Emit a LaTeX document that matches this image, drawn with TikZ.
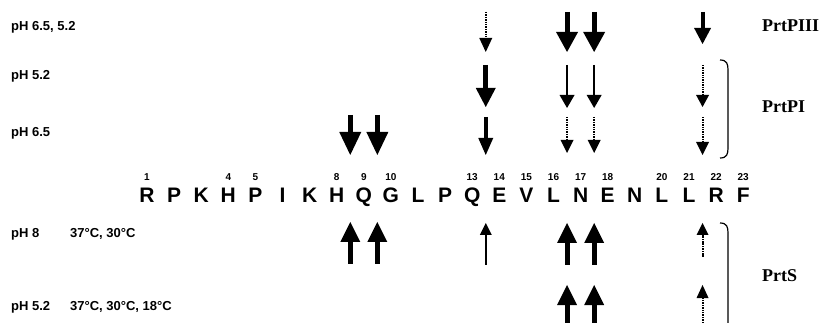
\documentclass[tikz,border=0pt]{standalone}
\usepackage{fontspec}
\setmainfont{Liberation Serif}
\newfontfamily\arialfont{Liberation Sans}
\newcommand{\cutarrow}[7]{% x, tail y, tip y, shaft w, head w, head len, shaft style
  \pgfmathsetmacro{\ybase}{(#2>#3) ? (#3+#6) : (#3-#6)}
  \draw[#7, line width=#4pt] (#1,#2) -- (#1,\ybase);
  \fill (#1-#5/2,\ybase) -- (#1+#5/2,\ybase) -- (#1,#3) -- cycle;
}
\tikzset{
  seq/.style={font=\arialfont\bfseries\fontsize{21}{21}\selectfont, inner sep=0pt, anchor=base},
  num/.style={font=\arialfont\bfseries\fontsize{10}{10}\selectfont, inner sep=0pt, anchor=base},
  cond/.style={font=\arialfont\bfseries\fontsize{13}{13}\selectfont, inner sep=0pt, anchor=base west},
  enz/.style={font=\bfseries\fontsize{18}{18}\selectfont, inner sep=0pt, anchor=base west},
  dotshaft/.style={dash pattern=on 1.5pt off 0.9pt},
  brack/.style={line width=1.2pt},
}
\begin{document}
\begin{tikzpicture}[x=1pt,y=-1pt]
\useasboundingbox (0,0) rectangle (825,323);
\fill[white] (0,0) rectangle (825,323);
% sequence
\foreach \l [count=\i] in {R,P,K,H,P,I,K,H,Q,G,L,P,Q,E,V,L,N,E,N,L,L,R,F}
  \node[seq] (s\i) at ({147+(\i-1)*27.1},203) {\l};
\foreach \i in {1,4,5,8,9,10,13,14,15,16,17,18,20,21,22,23}
  \node[num] (n\i) at ({147+(\i-1)*27.1},180.5) {\i};
% condition labels
\node[cond] (c1) at (11,30.5) {pH 6.5, 5.2};
\node[cond] (c2) at (11,80) {pH 5.2};
\node[cond] (c3) at (11,137) {pH 6.5};
\node[cond] (c4) at (11,237.5) {pH 8};
\node[cond] (t4) at (70,237.5) {37°C, 30°C};
\node[cond] (c5) at (11,310) {pH 5.2};
\node[cond] (t5) at (70,310) {37°C, 30°C, 18°C};
% enzyme labels
\node[enz] (e1) at (762,32) {PrtPIII};
\node[enz] (e2) at (762,113) {PrtPI};
\node[enz] (e3) at (762,282) {PrtS};
% brackets
\draw[brack] (720,60) .. controls (727,60) and (728,64) .. (728,70) -- (728,148) .. controls (728,154) and (727,158) .. (720,158);
\draw[brack] (720,223) .. controls (727,223) and (728,227) .. (728,233) -- (728,340);
% row 1 (pH 6.5, 5.2)
\cutarrow{485.75}{12}{52}{2}{13}{14}{dotshaft}
\cutarrow{567.05}{12}{52}{5}{22}{20}{solid}
\cutarrow{594.15}{12}{52}{5}{22}{20}{solid}
\cutarrow{702.55}{12}{44}{4}{17}{16}{solid}
% row 2 (pH 5.2)
\cutarrow{485.75}{65}{107}{5}{20}{19}{solid}
\cutarrow{567.05}{65}{108}{2.5}{15}{13}{solid}
\cutarrow{594.15}{65}{108}{2.5}{15}{13}{solid}
\cutarrow{702.55}{65}{107}{2}{13}{12}{dotshaft}
% row 3 (pH 6.5)
\cutarrow{350.25}{115}{155}{5}{22}{23}{solid}
\cutarrow{377.35}{115}{155}{5}{22}{23}{solid}
\cutarrow{485.75}{117}{155}{4}{15}{17}{solid}
\cutarrow{567.05}{117}{153}{2}{13}{13}{dotshaft}
\cutarrow{594.15}{117}{153}{2}{13}{13}{dotshaft}
\cutarrow{702.55}{117}{155}{2}{13}{13}{dotshaft}
% row 4 (pH 8)
\cutarrow{350.25}{264}{222}{5}{20}{20}{solid}
\cutarrow{377.35}{264}{222}{5}{20}{20}{solid}
\cutarrow{485.75}{265}{223}{2}{12}{12}{solid}
\cutarrow{567.05}{265}{223}{5}{20}{20}{solid}
\cutarrow{594.15}{265}{223}{5}{20}{20}{solid}
\cutarrow{702.55}{257}{223}{2}{12}{12}{dotshaft}
% row 5 (pH 5.2)
\cutarrow{567.05}{335}{285}{5}{20}{20}{solid}
\cutarrow{594.15}{335}{285}{5}{20}{20}{solid}
\cutarrow{702.55}{335}{285}{2}{12}{13}{dotshaft}
\end{tikzpicture}
\end{document}
